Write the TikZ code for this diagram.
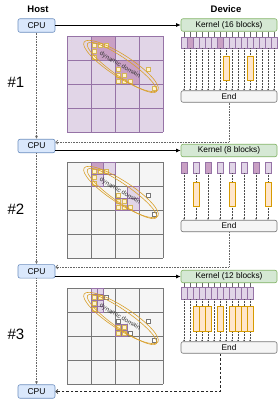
\documentclass[tikz,border=0pt]{standalone}
\usepackage{fontspec}
\setmainfont{Liberation Sans}
\usetikzlibrary{arrows.meta,calc}
\definecolor{bluef}{HTML}{DAE8FC}\definecolor{blues}{HTML}{6C8EBF}
\definecolor{greenf}{HTML}{D5E8D4}\definecolor{greens}{HTML}{82B366}
\definecolor{greyf}{HTML}{F5F5F5}\definecolor{greys}{HTML}{777777}
\definecolor{purplef}{HTML}{E1D5E7}\definecolor{purples}{HTML}{9673A6}
\definecolor{purpled}{HTML}{C9A0C4}
\definecolor{orangef}{HTML}{FFE6CC}\definecolor{oranges}{HTML}{D79B00}
\definecolor{yellowf}{HTML}{FFF2CC}\definecolor{yellows}{HTML}{D6B656}
\definecolor{ellc}{HTML}{D9A02A}\definecolor{txtg}{HTML}{333333}
\begin{document}
\begin{tikzpicture}[x=1pt,y=-1pt,
  cpubox/.style={draw=blues,fill=bluef,rounded corners=2pt,minimum width=37pt,minimum height=13.5pt,inner sep=0pt,line width=0.6pt,font=\fontsize{8.5}{9}\selectfont},
  kbox/.style={draw=greens,fill=greenf,rounded corners=2pt,minimum width=96pt,minimum height=12.5pt,inner sep=0pt,line width=0.6pt,font=\fontsize{8.3}{9}\selectfont},
  endbox/.style={draw=greys,fill=greyf,rounded corners=2pt,minimum width=96pt,minimum height=11.5pt,inner sep=0pt,line width=0.6pt,font=\fontsize{8.3}{9}\selectfont},
  blk/.style={draw=purples,fill=purplef,minimum width=6pt,minimum height=11pt,inner sep=0pt,line width=0.4pt},
  dblk/.style={blk,fill=purpled},
  orng/.style={draw=oranges,fill=orangef,minimum width=6pt,minimum height=24pt,inner sep=0pt,line width=0.5pt},
  ysq/.style={draw=yellows,fill=yellowf,minimum size=3.6pt,inner sep=0pt,line width=0.4pt},
  wsq/.style={draw=greys,fill=white,minimum size=3.6pt,inner sep=0pt,line width=0.4pt},
  karr/.style={draw=black!70,line width=0.3pt,dash pattern=on 1pt off 0.5pt,-{Latex[length=1.6pt,width=1.6pt]}},
  tick/.style={draw=black!60,line width=0.3pt},
  solidarr/.style={draw=black,line width=0.8pt,-{Latex[length=4.5pt,width=4pt]}},
  vdot/.style={draw=black!60,line width=0.7pt,dash pattern=on 0.8pt off 0.8pt,-{Latex[length=3pt,width=3pt]}},
  rdot/.style={draw=black!60,line width=0.7pt,dash pattern=on 0.8pt off 0.8pt,-{Straight Barb[length=2pt,width=4pt]}},
  rdash/.style={draw=black!85,line width=0.8pt,dash pattern=on 2.5pt off 2pt,-{Straight Barb[length=2pt,width=4pt]}},
  ellp/.style={draw=ellc,line width=0.6pt},
  ddtxt/.style={font=\fontsize{6.3}{7}\selectfont,text=txtg,inner sep=0pt},
  hdr/.style={font=\bfseries\fontsize{9.5}{10}\selectfont},
  num/.style={font=\fontsize{15}{16}\selectfont}]
\useasboundingbox[fill=white] (0,0) rectangle (278,400);

% headers
\node[hdr] (host) at (38,9) {Host};
\node[hdr] (device) at (226,9) {Device};
\node[num] (n1) at (16,82) {\#1};
\node[num] (n2) at (16,209) {\#2};
\node[num] (n3) at (16,334) {\#3};

% CPUs
\node[cpubox] (cpu1) at (36.5,25.5) {CPU};
\node[cpubox] (cpu2) at (36.5,146) {CPU};
\node[cpubox] (cpu3) at (36.5,271.3) {CPU};
\node[cpubox] (cpu4) at (36.5,391.5) {CPU};

% ---------- Grid 1
\begin{scope}[shift={(67,36)}]
  \fill[purplef] (0,0) rectangle (96,96);
  \fill[purpled] (24,0) rectangle (48,24);
  \fill[purpled] (48,24) rectangle (72,48);
  \foreach \k in {0,24,48,72,96} {
    \draw[purples,line width=0.7pt] (\k,0) -- (\k,96);
    \draw[purples,line width=0.7pt] (0,\k) -- (96,\k);
  }
  \foreach \i/\j in {0/1,1/1,2/1,0/2,0/3} \node[ysq] (g1a-\i-\j) at (27+6*\i,3+6*\j) {};
  \foreach \i/\j in {0/1,0/2,1/2,0/3,1/3,2/3} \node[ysq] (g1b-\i-\j) at (51+6*\i,27+6*\j) {};
  \node[ysq] (g1c) at (81,33) {};
  \node[ysq] (g1d) at (87,52) {};
  \draw[ellp,rotate around={-33:(54,30)}] (54,30) ellipse [x radius=44, y radius=11];
  \draw[ellp,rotate around={-35:(55,31.5)}] (55,31.5) ellipse [x radius=42, y radius=9];
  \node[ddtxt,rotate=-30] (dd1) at (53,29) {dynamic domain};
\end{scope}

% ---------- Grid 2
\begin{scope}[shift={(67,162)}]
  \fill[greyf] (0,0) rectangle (96,96);
  \foreach \k in {0,24,48,72,96} {
    \draw[greys,line width=0.7pt] (\k,0) -- (\k,96);
    \draw[greys,line width=0.7pt] (0,\k) -- (96,\k);
  }
  \draw[purples,fill=purpled,line width=0.5pt] (24,0) rectangle (36,12);
  \draw[purples,fill=purplef,line width=0.5pt] (36,0) rectangle (48,12);
  \draw[purples,fill=purplef,line width=0.5pt] (24,12) rectangle (36,24);
  \draw[purples,fill=purplef,line width=0.5pt] (60,24) rectangle (72,36);
  \draw[purples,fill=purplef,line width=0.5pt] (48,36) rectangle (60,48);
  \draw[purples,fill=purplef,line width=0.5pt] (60,36) rectangle (72,48);
  \foreach \i/\j in {0/1,1/1,2/1,0/2,0/3} \node[ysq] (g2a-\i-\j) at (27+6*\i,3+6*\j) {};
  \foreach \i/\j in {0/1,0/2,1/2,0/3,1/3,2/3} \node[ysq] (g2b-\i-\j) at (51+6*\i,27+6*\j) {};
  \node[wsq] (g2c) at (81,33) {};
  \node[wsq] (g2d) at (87,52) {};
  \draw[ellp,rotate around={-33:(54,30)}] (54,30) ellipse [x radius=44, y radius=11];
  \draw[ellp,rotate around={-35:(55,31.5)}] (55,31.5) ellipse [x radius=42, y radius=9];
  \node[ddtxt,rotate=-30] (dd2) at (53,29) {dynamic domain};
\end{scope}

% ---------- Grid 3
\begin{scope}[shift={(67,288)}]
  \fill[greyf] (0,0) rectangle (96,96);
  \foreach \k in {0,24,48,72,96} {
    \draw[greys,line width=0.7pt] (\k,0) -- (\k,96);
    \draw[greys,line width=0.7pt] (0,\k) -- (96,\k);
  }
  \foreach \i in {0,1} \foreach \j in {0,1,2,3}
    \draw[purples,fill=purplef,line width=0.4pt] (24+6*\i,6*\j) rectangle ++(6,6);
  \foreach \i in {0,1} \foreach \j in {2,3}
    \draw[purples,fill=purplef,line width=0.4pt] (48+6*\i,24+6*\j) rectangle ++(6,6);
  \foreach \i/\j in {0/1,1/1,0/2,0/3} \node[ysq] (g3a-\i-\j) at (27+6*\i,3+6*\j) {};
  \node[wsq] (g3a-2-1) at (39,9) {};
  \node[wsq] (g3b-0-1) at (51,33) {};
  \foreach \i/\j in {0/2,1/2,0/3,1/3} \node[ysq] (g3b-\i-\j) at (51+6*\i,27+6*\j) {};
  \node[wsq] (g3b-2-3) at (63,45) {};
  \node[wsq] (g3c) at (81,33) {};
  \node[wsq] (g3d) at (87,52) {};
  \draw[ellp,rotate around={-33:(54,30)}] (54,30) ellipse [x radius=44, y radius=11];
  \draw[ellp,rotate around={-35:(55,31.5)}] (55,31.5) ellipse [x radius=42, y radius=9];
  \node[ddtxt,rotate=-30] (dd3) at (53,29) {dynamic domain};
\end{scope}

% ---------- Kernel 1
\node[kbox] (k1) at (229,25) {Kernel (16 blocks)};
\node[endbox] (e1) at (229,96.5) {End};
\foreach \i/\s in {0/blk,1/dblk,2/blk,3/blk,4/blk,5/blk,6/dblk,7/blk,8/blk,9/blk,10/blk,11/blk,12/blk,13/blk,14/blk,15/blk}
  \node[\s] (k1b\i) at (184+6*\i,42.5) {};
\foreach \i in {0,...,15} {
  \draw[tick] (k1b\i.north |- k1.south) -- (k1b\i.north);
  \draw[karr] (k1b\i.south) -- (k1b\i.south |- e1.north);
}
\node[orng] (k1o7) at (226,68) {};
\node[orng] (k1o11) at (250,68) {};

% ---------- Kernel 2
\node[kbox] (k2) at (229,150.5) {Kernel (8 blocks)};
\node[endbox] (e2) at (229,226) {End};
\foreach \i/\s in {0/dblk,1/blk,2/dblk,3/blk,4/blk,5/blk,6/dblk,7/blk}
  \node[\s] (k2b\i) at (184+12*\i,167.5) {};
\foreach \i in {0,...,7}
  \draw[karr] (k2b\i.south) -- (k2b\i.south |- e2.north);
\foreach \i in {1,4,7}
  \node[orng] (k2o\i) at (184+12*\i,194) {};

% ---------- Kernel 3
\node[kbox] (k3) at (229,276.5) {Kernel (12 blocks)};
\node[endbox] (e3) at (229,347.5) {End};
\foreach \i in {0,...,11}
  \node[blk,minimum height=12pt] (k3b\i) at (184+6*\i,293) {};
\foreach \i in {0,...,11} {
  \draw[tick] (k3b\i.north |- k3.south) -- (k3b\i.north);
  \draw[karr] (k3b\i.south) -- (k3b\i.south |- e3.north);
}
\foreach \i in {2,3,4,6,8,9,10,11}
  \node[orng,minimum height=25pt] (k3o\i) at (184+6*\i,318.5) {};

% ---------- connectors
\draw[solidarr] (cpu1.east |- k1.west) -- (k1.west);
\draw[solidarr] (cpu2.east |- k2.west) -- (k2.west);
\draw[solidarr] (cpu3.east |- k3.west) -- (k3.west);
\draw[vdot] (cpu1.south) -- (cpu2.north);
\draw[vdot] (cpu2.south) -- (cpu3.north);
\draw[vdot] (cpu3.south) -- (cpu4.north);
\draw[rdot] (e1.south) |- ([yshift=3.8pt]cpu2.east);
\draw[rdot] (e2.south) |- ([yshift=4.3pt]cpu3.east);
\draw[rdash] ([xshift=-9pt]e3.south) |- (cpu4.east);
\end{tikzpicture}
\end{document}
